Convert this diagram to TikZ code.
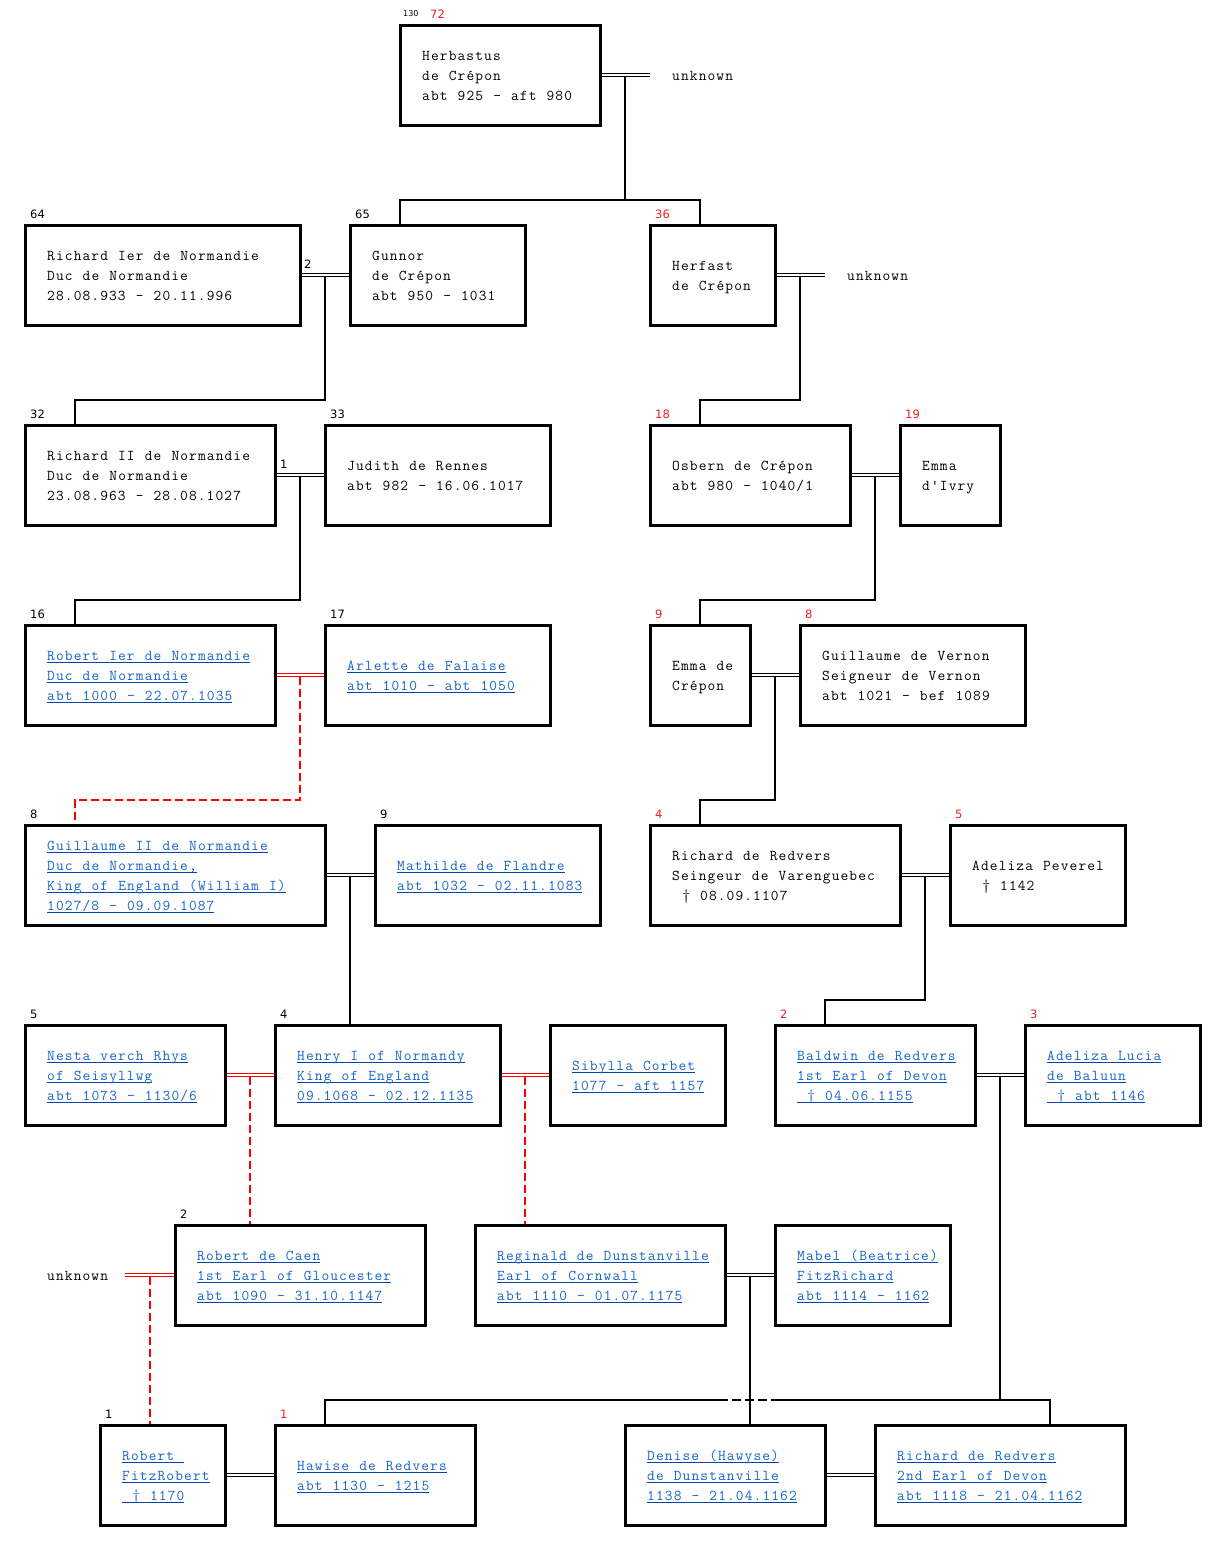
\documentclass[tikz,border=0pt]{standalone}
\usepackage{fontspec}
\setmonofont{Latin Modern Mono}[LetterSpace=7.5, WordSpace=1.142857]
\newfontfamily\labfam{DejaVu Sans}
\usetikzlibrary{calc}
\pgfdeclarelayer{bg}
\pgfsetlayers{bg,main}
\definecolor{lblue}{RGB}{20,100,200}
\definecolor{ublue}{RGB}{0,70,170}
\definecolor{nred}{RGB}{240,30,30}
\newcommand\pmono{\ttfamily\fontsize{15}{20}\selectfont}
\newcommand\sa{\rule{0pt}{15pt}}
\newcommand\sd{\rule[-5pt]{0pt}{5pt}}
\newcommand\lk[1]{\setbox0\hbox{#1}\rlap{\color{ublue}\rule[-3pt]{\wd0}{1pt}}\box0}
\newcommand\person[6]{%
  \node[pbox, minimum width=#4pt] (#1) at (#2,#3) {};
  \node[#5] (#1-t) at ([xshift=22pt]#1.west) {#6};}
\tikzset{
  pbox/.style={draw, line width=3pt, minimum height=100pt, anchor=north west, inner sep=0pt, outer sep=0pt},
  ptext/.style={font=\pmono, align=left, inner sep=0pt, anchor=west, text=black},
  plink/.style={ptext, text=lblue},
  unk/.style={font=\pmono, inner sep=0pt, anchor=base west, text=black},
  lab/.style={font=\labfam\fontsize{11.5}{12}\selectfont, inner sep=0pt, anchor=base west, text=black},
  labr/.style={lab, text=nred},
  marr/.style={line width=1pt, double distance=1.2pt, double=white, draw=black},
  marrr/.style={marr, draw=red},
  desc/.style={line width=2pt, draw=black},
  descr/.style={line width=2pt, draw=red, dash pattern=on 8pt off 4pt},
}
\begin{document}
\begin{tikzpicture}[x=1pt,y=-1pt]
\useasboundingbox (0,0) rectangle (1226,1551);
% ---- persons
\person{herb}{400}{25}{200}{ptext}{\sa Herbastus\\de Crépon\\abt 925 - aft 980\sd}
\person{rich1}{25}{225}{275}{ptext}{\sa Richard Ier de Normandie\\Duc de Normandie\\28.08.933 - 20.11.996\sd}
\person{gunnor}{350}{225}{175}{ptext}{\sa Gunnor\\de Crépon\\abt 950 - 1031\sd}
\person{herfast}{650}{225}{125}{ptext}{\sa Herfast\\de Crépon\sd}
\person{rich2}{25}{425}{250}{ptext}{\sa Richard II de Normandie\\Duc de Normandie\\23.08.963 - 28.08.1027\sd}
\person{judith}{325}{425}{225}{ptext}{\sa Judith de Rennes\\abt 982 - 16.06.1017\sd}
\person{osbern}{650}{425}{200}{ptext}{\sa Osbern de Crépon\\abt 980 - 1040/1\sd}
\person{emmai}{900}{425}{100}{ptext}{\sa Emma\\d'Ivry\sd}
\person{robert1}{25}{625}{250}{plink}{\sa\lk{Robert Ier de Normandie}\\\lk{Duc de Normandie}\\\lk{abt 1000 - 22.07.1035}\sd}
\person{arlette}{325}{625}{225}{plink}{\sa\lk{Arlette de Falaise}\\\lk{abt 1010 - abt 1050}\sd}
\person{emmac}{650}{625}{100}{ptext}{\sa Emma de\\Crépon\sd}
\person{guilv}{800}{625}{225}{ptext}{\sa Guillaume de Vernon\\Seigneur de Vernon\\abt 1021 - bef 1089\sd}
\person{guil2}{25}{825}{300}{plink}{\sa\lk{Guillaume II de Normandie}\\\lk{Duc de Normandie,}\\\lk{King of England (William I)}\\\lk{1027/8 - 09.09.1087}\sd}
\person{mathilde}{375}{825}{225}{plink}{\sa\lk{Mathilde de Flandre}\\\lk{abt 1032 - 02.11.1083}\sd}
\person{redv}{650}{825}{250}{ptext}{\sa Richard de Redvers\\Seingeur de Varenguebec\\\mbox{}~† 08.09.1107\sd}
\person{adelp}{950}{825}{175}{ptext}{\sa Adeliza Peverel\\\mbox{}~† 1142\sd}
\person{nesta}{25}{1025}{200}{plink}{\sa\lk{Nesta verch Rhys}\\\lk{of Seisyllwg}\\\lk{abt 1073 - 1130/6}\sd}
\person{henry}{275}{1025}{225}{plink}{\sa\lk{Henry I of Normandy}\\\lk{King of England}\\\lk{09.1068 - 02.12.1135}\sd}
\person{sibylla}{550}{1025}{175}{plink}{\sa\lk{Sibylla Corbet}\\\lk{1077 - aft 1157}\sd}
\person{baldwin}{775}{1025}{200}{plink}{\sa\lk{Baldwin de Redvers}\\\lk{1st Earl of Devon}\\\lk{~† 04.06.1155}\sd}
\person{adell}{1025}{1025}{175}{plink}{\sa\lk{Adeliza Lucia}\\\lk{de Baluun}\\\lk{~† abt 1146}\sd}
\person{caen}{175}{1225}{250}{plink}{\sa\lk{Robert de Caen}\\\lk{1st Earl of Gloucester}\\\lk{abt 1090 - 31.10.1147}\sd}
\person{reginald}{475}{1225}{250}{plink}{\sa\lk{Reginald de Dunstanville}\\\lk{Earl of Cornwall}\\\lk{abt 1110 - 01.07.1175}\sd}
\person{mabel}{775}{1225}{175}{plink}{\sa\lk{Mabel (Beatrice)}\\\lk{FitzRichard}\\\lk{abt 1114 - 1162}\sd}
\person{fitz}{100}{1425}{125}{plink}{\sa\lk{Robert~}\\\lk{FitzRobert}\\\lk{~† 1170}\sd}
\person{hawise}{275}{1425}{200}{plink}{\sa\lk{Hawise de Redvers}\\\lk{abt 1130 - 1215}\sd}
\person{denise}{625}{1425}{200}{plink}{\sa\lk{Denise (Hawyse)}\\\lk{de Dunstanville}\\\lk{1138 - 21.04.1162}\sd}
\person{rich3}{875}{1425}{250}{plink}{\sa\lk{Richard de Redvers}\\\lk{2nd Earl of Devon}\\\lk{abt 1118 - 21.04.1162}\sd}
% ---- unknown partners
\coordinate (u1) at ($(herb.east)+(50,0)$);
\node[unk] (unk1) at ($(herb.east)+(72,5)$) {unknown};
\coordinate (u2) at ($(herfast.east)+(50,0)$);
\node[unk] (unk2) at ($(herfast.east)+(72,5)$) {unknown};
\coordinate (u3) at ($(caen.west)+(-50,0)$);
\node[unk] (unk3) at ($(caen.west)+(-128,5)$) {unknown};
% ---- number labels
\node[lab, font=\labfam\fontsize{8}{9}\selectfont] (n-herb0) at ($(herb.north west)+(3,-9)$) {130};
\node[labr] (n-herb) at ($(herb.north west)+(30,-7)$) {72};
\node[lab] (n-rich1) at ($(rich1.north west)+(5,-7)$) {64};
\node[lab] (n-gunnor) at ($(gunnor.north west)+(5,-7)$) {65};
\node[labr] (n-herfast) at ($(herfast.north west)+(5,-7)$) {36};
\node[lab] (n-rich2) at ($(rich2.north west)+(5,-7)$) {32};
\node[lab] (n-judith) at ($(judith.north west)+(5,-7)$) {33};
\node[labr] (n-osbern) at ($(osbern.north west)+(5,-7)$) {18};
\node[labr] (n-emmai) at ($(emmai.north west)+(5,-7)$) {19};
\node[lab] (n-robert1) at ($(robert1.north west)+(5,-7)$) {16};
\node[lab] (n-arlette) at ($(arlette.north west)+(5,-7)$) {17};
\node[labr] (n-emmac) at ($(emmac.north west)+(5,-7)$) {9};
\node[labr] (n-guilv) at ($(guilv.north west)+(5,-7)$) {8};
\node[lab] (n-guil2) at ($(guil2.north west)+(5,-7)$) {8};
\node[lab] (n-mathilde) at ($(mathilde.north west)+(5,-7)$) {9};
\node[labr] (n-redv) at ($(redv.north west)+(5,-7)$) {4};
\node[labr] (n-adelp) at ($(adelp.north west)+(5,-7)$) {5};
\node[lab] (n-nesta) at ($(nesta.north west)+(5,-7)$) {5};
\node[lab] (n-henry) at ($(henry.north west)+(5,-7)$) {4};
\node[labr] (n-baldwin) at ($(baldwin.north west)+(5,-7)$) {2};
\node[labr] (n-adell) at ($(adell.north west)+(5,-7)$) {3};
\node[lab] (n-caen) at ($(caen.north west)+(5,-7)$) {2};
\node[lab] (n-fitz) at ($(fitz.north west)+(5,-7)$) {1};
\node[labr] (n-hawise) at ($(hawise.north west)+(5,-7)$) {1};
\node[lab] (n-m1) at ($(rich1.east)+(4,-7)$) {2};
\node[lab] (n-m2) at ($(rich2.east)+(5,-7)$) {1};
% ---- connectors
\begin{pgfonlayer}{bg}
\fill[white] (0,0) rectangle (1226,1551);
% marriages
\draw[marr] (herb.east) -- (u1);
\draw[marr] (rich1.east) -- (gunnor.west);
\draw[marr] (herfast.east) -- (u2);
\draw[marr] (rich2.east) -- (judith.west);
\draw[marr] (osbern.east) -- (emmai.west);
\draw[marrr] (robert1.east) -- (arlette.west);
\draw[marr] (emmac.east) -- (guilv.west);
\draw[marr] (guil2.east) -- (mathilde.west);
\draw[marr] (redv.east) -- (adelp.west);
\draw[marrr] (nesta.east) -- (henry.west);
\draw[marrr] (henry.east) -- (sibylla.west);
\draw[marr] (baldwin.east) -- (adell.west);
\draw[marrr] (u3) -- (caen.west);
\draw[marr] (reginald.east) -- (mabel.west);
\draw[marr] (fitz.east) -- (hawise.west);
\draw[marr] (denise.east) -- (rich3.west);
% drop points
\coordinate (d1) at ($(herb.east)!.5!(u1)+(0,1.6)$);
\coordinate (d2) at ($(rich1.east)!.5!(gunnor.west)+(0,1.6)$);
\coordinate (d3) at ($(herfast.east)!.5!(u2)+(0,1.6)$);
\coordinate (d4) at ($(rich2.east)!.5!(judith.west)+(0,1.6)$);
\coordinate (d5) at ($(osbern.east)!.5!(emmai.west)+(0,1.6)$);
\coordinate (d6) at ($(robert1.east)!.5!(arlette.west)+(0,1.6)$);
\coordinate (d7) at ($(emmac.east)!.5!(guilv.west)+(0,1.6)$);
\coordinate (d8) at ($(guil2.east)!.5!(mathilde.west)+(0,1.6)$);
\coordinate (d9) at ($(redv.east)!.5!(adelp.west)+(0,1.6)$);
\coordinate (d10) at ($(nesta.east)!.5!(henry.west)+(0,1.6)$);
\coordinate (d11) at ($(henry.east)!.5!(sibylla.west)+(0,1.6)$);
\coordinate (d12) at ($(baldwin.east)!.5!(adell.west)+(0,1.6)$);
\coordinate (d13) at ($(u3)!.5!(caen.west)+(0,1.6)$);
\coordinate (d14) at ($(reginald.east)!.5!(mabel.west)+(0,1.6)$);
% child entry points
\coordinate (cgun) at ($(gunnor.north west)+(50,0)$);
\coordinate (cherf) at ($(herfast.north west)+(50,0)$);
\coordinate (crich2) at ($(rich2.north west)+(50,0)$);
\coordinate (cosb) at ($(osbern.north west)+(50,0)$);
\coordinate (crob) at ($(robert1.north west)+(50,0)$);
\coordinate (cemmac) at ($(emmac.north west)+(50,0)$);
\coordinate (cguil2) at ($(guil2.north west)+(50,0)$);
\coordinate (credv) at ($(redv.north west)+(50,0)$);
\coordinate (cbald) at ($(baldwin.north west)+(50,0)$);
\coordinate (chaw) at ($(hawise.north west)+(50,0)$);
\coordinate (crich3) at ($(rich3.north west)+(175,0)$);
% descents
\coordinate (b1) at ($(cherf)+(0,-25)$);
\draw[desc] (d1) -- (d1 |- b1);
\draw[desc] (cgun) |- (b1) -- (cherf);
\draw[desc] (d2) |- ($(crich2)+(0,-25)$) -- (crich2);
\draw[desc] (d3) |- ($(cosb)+(0,-25)$) -- (cosb);
\draw[desc] (d4) |- ($(crob)+(0,-25)$) -- (crob);
\draw[desc] (d5) |- ($(cemmac)+(0,-25)$) -- (cemmac);
\draw[descr] (d6) |- ($(cguil2)+(0,-25)$) -- (cguil2);
\draw[desc] (d7) |- ($(credv)+(0,-25)$) -- (credv);
\draw[desc] (d8) -- (d8 |- henry.north);
\draw[desc] (d9) |- ($(cbald)+(0,-25)$) -- (cbald);
\draw[descr] (d10) -- (d10 |- caen.north);
\draw[descr] (d11) -- (d11 |- reginald.north);
\draw[descr] (d13) -- (d13 |- fitz.north);
\draw[desc] (d14) -- (d14 |- denise.north);
\coordinate (b12) at ($(crich3)+(0,-25)$);
\coordinate (x0) at (d14 |- b12);
\coordinate (x1) at ($(x0)+(-22,0)$);
\coordinate (x2) at ($(x0)+(21,0)$);
\draw[desc] (d12) -- (d12 |- b12);
\draw[desc] (chaw) |- (x1);
\draw[desc, dash pattern=on 9pt off 4pt, dash phase=9pt] (x1) -- (x2);
\draw[desc] (x2) -| (crich3);
\end{pgfonlayer}
\end{tikzpicture}
\end{document}
